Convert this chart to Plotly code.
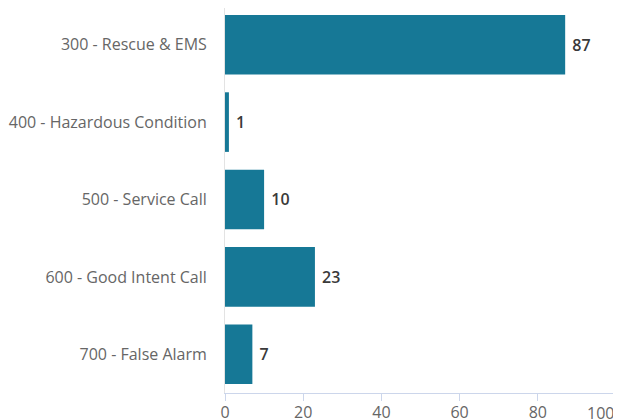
import plotly.graph_objects as go

categories = ["300 - Rescue & EMS", "400 - Hazardous Condition", "500 - Service Call",
              "600 - Good Intent Call", "700 - False Alarm"]
values = [87, 1, 10, 23, 7]
tick_vals = [0, 20, 40, 60, 80, 100]
tick_text = ["0", "20", "40", "60", "80", ""]
last_tick_label = "100"

fig = go.Figure(go.Bar(
    x=values, y=categories, orientation="h",
    marker=dict(color="#167896", line=dict(width=0)),
    text=[str(v) for v in values], texttemplate="\u00a0%{text}", textposition="outside",
    textfont=dict(family="Open Sans", size=16, color="#3a3a3a", weight=600),
    cliponaxis=False,
))

fig.add_annotation(x=tick_vals[-1], xref="x", y=0, yref="paper", yanchor="top",
                   xanchor="right", yshift=-7, text=last_tick_label, showarrow=False,
                   font=dict(family="Open Sans", size=16, color="#666666"))

fig.update_layout(
    width=613, height=412,
    margin=dict(l=217, r=5, t=0, b=27, autoexpand=False),
    paper_bgcolor="white", plot_bgcolor="white",
    bargap=0.23,
    showlegend=False,
    font=dict(family="Open Sans", size=16, color="#666666"),
    xaxis=dict(range=[0, 100], tickvals=tick_vals, ticktext=tick_text,
               showgrid=False, zeroline=False, automargin=False,
               showline=True, linecolor="#ccd6eb", linewidth=1,
               ticks="outside", ticklen=7, tickcolor="#ccd6eb",
               ticklabelstandoff=-2,
               tickfont=dict(size=16, color="#666666")),
    yaxis=dict(range=[4.5, -0.474], showgrid=False, zeroline=False, automargin=False,
               showline=True, linecolor="#e3e3e3", linewidth=1,
               ticks="", ticklabelstandoff=14,
               tickfont=dict(size=16, color="#666666")),
)

fig.write_html("out.html")
